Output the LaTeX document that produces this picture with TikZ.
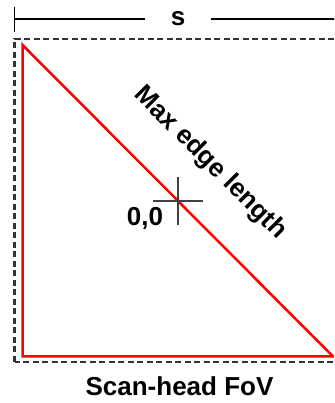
\documentclass[tikz,border=0pt]{standalone}
\usepackage{fontspec}
\setmainfont{Liberation Sans}
\begin{document}
\begin{tikzpicture}[x=1pt,y=1pt,
  lbl/.style={font=\fontsize{26}{31}\selectfont\bfseries, inner sep=0pt},
  fovbox/.style={draw=black!80, line width=2.3pt, dash pattern=on 6pt off 3.5pt},
  tri/.style={draw=red, line width=2.5pt, line join=miter},
  cross/.style={draw=black!75, line width=1.5pt},
  dimline/.style={draw=black, line width=2.4pt},
  dimtick/.style={draw=black, line width=1.8pt}]
\clip (0,0) rectangle (334,403);
% scan-head field of view
\draw[fovbox] (14.5,41) rectangle (340,364);
% dimension line
\coordinate (tickT) at (14.5,396);
\coordinate (tickB) at (14.5,371);
\coordinate (dimL) at (14.5,384);
\coordinate (dimR) at (340,384);
\node[lbl, inner xsep=26pt] (s) at (178,384) {s};
\draw[dimtick] (tickT) -- (tickB);
\draw[dimline] (dimL) -- (s.west);
\draw[dimline] (s.east) -- (dimR);
% red triangle
\coordinate (A) at (22.5,358);
\coordinate (B) at (22.5,46.5);
\coordinate (C) at (333,46.5);
\draw[tri] (A) -- (B) -- (C) -- cycle;
% crosshair
\coordinate (O) at (178,202);
\draw[cross] ([xshift=-25pt]O) -- ([xshift=25pt]O);
\draw[cross] ([yshift=24pt]O) -- ([yshift=-24pt]O);
% labels
\node[lbl] (orig) at (145,185) {0,0};
\node[lbl, rotate=-45] (edge) at (210,240) {Max edge length};
\node[lbl] (fovlbl) at (179.5,17) {Scan-head FoV};
\end{tikzpicture}
\end{document}
